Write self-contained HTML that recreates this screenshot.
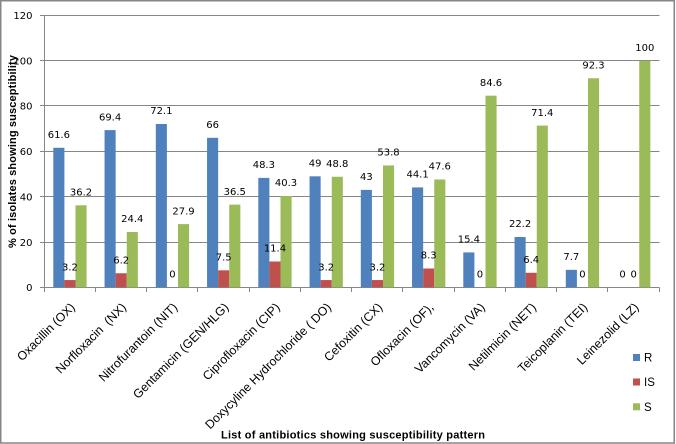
<!DOCTYPE html>
<html>
<head>
<meta charset="utf-8">
<style>
  html,body{margin:0;padding:0;background:#fff;}
  svg{display:block;}
  .num{font-family:"DejaVu Sans","Liberation Sans",sans-serif;font-size:10px;fill:#000;}
  .cat{font-family:"Liberation Sans",sans-serif;font-size:12.3px;fill:#000;}
  .ttl{font-family:"Liberation Sans",sans-serif;font-size:11px;font-weight:bold;fill:#000;}
  .leg{font-family:"Liberation Sans",sans-serif;font-size:11.5px;fill:#000;}
</style>
</head>
<body>
<svg width="676" height="444" viewBox="0 0 676 444" xmlns="http://www.w3.org/2000/svg">
  <rect x="0" y="0" width="676" height="444" fill="#fff"/>
  <rect x="0.75" y="0.75" width="673.5" height="442.25" fill="none" stroke="#868686" stroke-width="1.5"/>

  <!-- gridlines -->
  <g stroke="#868686" stroke-width="1" fill="none">
    <line x1="40" y1="15.5" x2="659.5" y2="15.5"/>
    <line x1="40" y1="60.5" x2="659.5" y2="60.5"/>
    <line x1="40" y1="105.5" x2="659.5" y2="105.5"/>
    <line x1="40" y1="151.5" x2="659.5" y2="151.5"/>
    <line x1="40" y1="196.5" x2="659.5" y2="196.5"/>
    <line x1="40" y1="242.5" x2="659.5" y2="242.5"/>
    <line x1="40" y1="287.5" x2="659.5" y2="287.5"/>
    <line x1="44.5" y1="15.5" x2="44.5" y2="287.5"/>
    <!-- x ticks -->
    <line x1="44.5" y1="287.5" x2="44.5" y2="292"/>
    <line x1="95.5" y1="287.5" x2="95.5" y2="292"/>
    <line x1="146.5" y1="287.5" x2="146.5" y2="292"/>
    <line x1="197.5" y1="287.5" x2="197.5" y2="292"/>
    <line x1="249.5" y1="287.5" x2="249.5" y2="292"/>
    <line x1="300.5" y1="287.5" x2="300.5" y2="292"/>
    <line x1="351.5" y1="287.5" x2="351.5" y2="292"/>
    <line x1="402.5" y1="287.5" x2="402.5" y2="292"/>
    <line x1="454.5" y1="287.5" x2="454.5" y2="292"/>
    <line x1="505.5" y1="287.5" x2="505.5" y2="292"/>
    <line x1="556.5" y1="287.5" x2="556.5" y2="292"/>
    <line x1="607.5" y1="287.5" x2="607.5" y2="292"/>
    <line x1="659.5" y1="287.5" x2="659.5" y2="292"/>
  </g>

  <!-- y tick labels -->
  <g class="num" text-anchor="end">
    <text x="32.5" y="19.2">120</text>
    <text x="32.5" y="64.3">100</text>
    <text x="32.5" y="109.3">80</text>
    <text x="32.5" y="155">60</text>
    <text x="32.5" y="200.3">40</text>
    <text x="32.5" y="245.8">20</text>
    <text x="32.5" y="291">0</text>
  </g>

  <!-- R bars -->
  <g fill="#4F81BD">
    <rect x="53.3" y="147.78" width="11.1" height="139.52"/>
    <rect x="104.55" y="130.11" width="11.1" height="157.19"/>
    <rect x="155.8" y="123.99" width="11.1" height="163.31"/>
    <rect x="207.05" y="137.81" width="11.1" height="149.49"/>
    <rect x="258.3" y="177.9" width="11.1" height="109.4"/>
    <rect x="309.55" y="176.31" width="11.1" height="110.99"/>
    <rect x="360.8" y="189.9" width="11.1" height="97.4"/>
    <rect x="412.05" y="187.41" width="11.1" height="99.89"/>
    <rect x="463.3" y="252.42" width="11.1" height="34.88"/>
    <rect x="514.55" y="237.02" width="11.1" height="50.28"/>
    <rect x="565.8" y="269.86" width="11.1" height="17.44"/>
  </g>
  <!-- IS bars -->
  <g fill="#C0504D">
    <rect x="64.4" y="280.05" width="11.1" height="7.25"/>
    <rect x="115.65" y="273.26" width="11.1" height="14.04"/>
    <rect x="218.15" y="270.31" width="11.1" height="16.99"/>
    <rect x="269.4" y="261.48" width="11.1" height="25.82"/>
    <rect x="320.65" y="280.05" width="11.1" height="7.25"/>
    <rect x="371.9" y="280.05" width="11.1" height="7.25"/>
    <rect x="423.15" y="268.5" width="11.1" height="18.8"/>
    <rect x="525.65" y="272.8" width="11.1" height="14.5"/>
  </g>
  <!-- S bars -->
  <g fill="#9BBB59">
    <rect x="75.5" y="205.31" width="11.1" height="81.99"/>
    <rect x="126.75" y="232.03" width="11.1" height="55.27"/>
    <rect x="178" y="224.11" width="11.1" height="63.19"/>
    <rect x="229.25" y="204.63" width="11.1" height="82.67"/>
    <rect x="280.5" y="196.02" width="11.1" height="91.28"/>
    <rect x="331.75" y="176.77" width="11.1" height="110.53"/>
    <rect x="383" y="165.44" width="11.1" height="121.86"/>
    <rect x="434.25" y="179.49" width="11.1" height="107.81"/>
    <rect x="485.5" y="95.68" width="11.1" height="191.62"/>
    <rect x="536.75" y="125.58" width="11.1" height="161.72"/>
    <rect x="588" y="78.24" width="11.1" height="209.06"/>
    <rect x="639.25" y="60.8" width="11.1" height="226.5"/>
  </g>

  <!-- data labels -->
  <g class="num" text-anchor="middle">
    <text x="58.85" y="137.98">61.6</text>
    <text x="110.1" y="120.31">69.4</text>
    <text x="161.35" y="114.19">72.1</text>
    <text x="212.6" y="128.01">66</text>
    <text x="263.85" y="168.1">48.3</text>
    <text x="315.1" y="166.51">49</text>
    <text x="366.35" y="180.1">43</text>
    <text x="417.6" y="177.61">44.1</text>
    <text x="468.85" y="242.62">15.4</text>
    <text x="520.1" y="227.22">22.2</text>
    <text x="571.35" y="260.06">7.7</text>
    <text x="622.6" y="277.5">0</text>

    <text x="69.95" y="270.25">3.2</text>
    <text x="121.2" y="263.46">6.2</text>
    <text x="172.45" y="277.5">0</text>
    <text x="223.7" y="260.51">7.5</text>
    <text x="274.95" y="251.68">11.4</text>
    <text x="326.2" y="270.25">3.2</text>
    <text x="377.45" y="270.25">3.2</text>
    <text x="428.7" y="258.7">8.3</text>
    <text x="479.95" y="277.5">0</text>
    <text x="531.2" y="263.0">6.4</text>
    <text x="582.45" y="277.5">0</text>
    <text x="633.7" y="277.5">0</text>

    <text x="81.05" y="195.51">36.2</text>
    <text x="132.3" y="222.23">24.4</text>
    <text x="183.55" y="214.31">27.9</text>
    <text x="234.8" y="194.83">36.5</text>
    <text x="286.05" y="186.22">40.3</text>
    <text x="337.3" y="166.97">48.8</text>
    <text x="388.55" y="155.64">53.8</text>
    <text x="439.8" y="169.69">47.6</text>
    <text x="491.05" y="85.88">84.6</text>
    <text x="542.3" y="115.78">71.4</text>
    <text x="593.55" y="68.44">92.3</text>
    <text x="644.8" y="51.0">100</text>
  </g>

  <!-- category labels -->
  <g class="cat" text-anchor="end">
    <text transform="translate(75.6,308) rotate(-45)">Oxacillin (OX)</text>
    <text transform="translate(126.85,308) rotate(-45)">Norfloxacin&#160; (NX)</text>
    <text transform="translate(178.1,308) rotate(-45)">Nitrofurantoin (NIT)</text>
    <text transform="translate(229.35,308) rotate(-45)">Gentamicin (GEN/HLG)</text>
    <text transform="translate(280.6,308) rotate(-45)">Ciprofloxacin (CIP)</text>
    <text transform="translate(331.85,308) rotate(-45)">Doxycyline Hydrochloride ( DO)</text>
    <text transform="translate(383.1,308) rotate(-45)">Cefoxitin (CX)</text>
    <text transform="translate(434.35,308) rotate(-45)">Ofloxacin (OF),</text>
    <text transform="translate(485.6,308) rotate(-45)">Vancomycin (VA)</text>
    <text transform="translate(536.85,308) rotate(-45)">Netilmicin (NET)</text>
    <text transform="translate(588.1,308) rotate(-45)">Teicoplanin (TEI)</text>
    <text transform="translate(639.35,308) rotate(-45)">Leinezolid (LZ)</text>
  </g>

  <!-- axis titles -->
  <text class="ttl" transform="translate(16,151.5) rotate(-90)" text-anchor="middle" textLength="193" lengthAdjust="spacing">% of isolates showing susceptibility</text>
  <text class="ttl" x="221" y="438.3" textLength="264" lengthAdjust="spacing">List of antibiotics showing susceptibility pattern</text>

  <!-- legend -->
  <rect x="633" y="354" width="7" height="7" fill="#4F81BD"/>
  <text class="leg" x="644" y="361.5">R</text>
  <rect x="633" y="378.5" width="7" height="7" fill="#C0504D"/>
  <text class="leg" x="644" y="386">IS</text>
  <rect x="633" y="403.3" width="7" height="7" fill="#9BBB59"/>
  <text class="leg" x="644" y="410.8">S</text>
</svg>
</body>
</html>
